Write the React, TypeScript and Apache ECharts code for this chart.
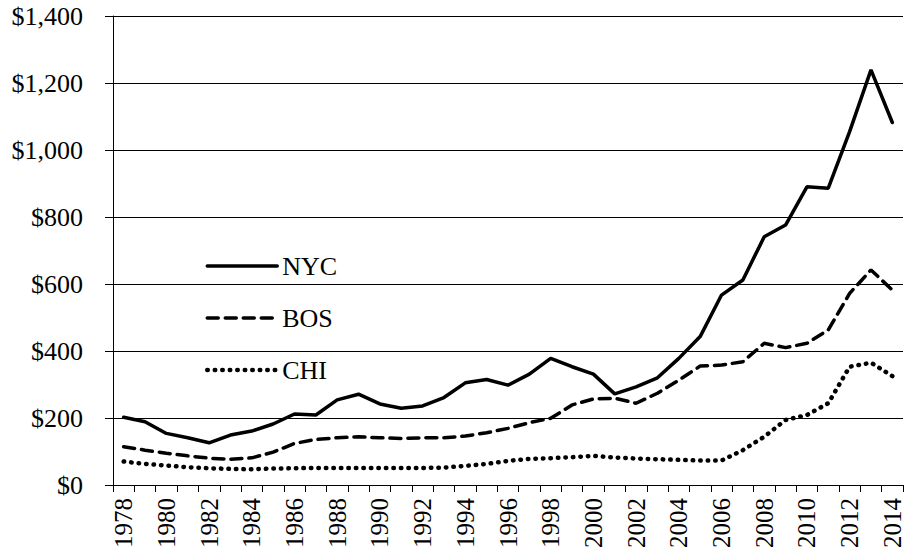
import React, { useEffect, useRef } from "react";
import * as echarts from "echarts";

const years: string[] = [];
for (let y = 1978; y <= 2014; y++) years.push(String(y));

const nyc = [202, 189, 154, 141, 126, 149, 161, 182, 212, 209, 254, 271, 242, 229, 236, 261, 305, 315,
  298, 331, 378, 353, 331, 272, 293, 320, 378, 443, 567, 612, 741, 776, 890, 886, 1055, 1239, 1082];
const bos = [114, 104, 95, 87, 80, 77, 81, 98, 124, 136, 141, 144, 141, 139, 141, 141, 146, 156,
  169, 186, 199, 239, 257, 259, 244, 274, 313, 355, 358, 368, 423, 410, 423, 463, 572, 642, 582];
const chi = [70, 63, 58, 53, 50, 48, 47, 49, 50, 51, 51, 51, 51, 51, 51, 52, 57, 63,
  72, 78, 80, 83, 87, 82, 79, 77, 75, 73, 73, 104, 144, 194, 209, 244, 353, 365, 325];

const FONT = "'Liberation Serif', 'Times New Roman', serif";

export default function App() {
  const ref = useRef<HTMLDivElement>(null);
  useEffect(() => {
    if (!ref.current) return;
    const chart = echarts.init(ref.current, null, { renderer: "svg" });
    const dashes: Record<string, any> = { NYC: "solid", BOS: [11, 7], CHI: [0.5, 7] };
    const widths: Record<string, number> = { NYC: 3.5, BOS: 3.5, CHI: 4.5 };
    const mk = (name: string, data: number[]) => ({
      name,
      type: "line",
      data,
      symbol: "none",
      smooth: false,
      lineStyle: { color: "#000", width: widths[name], type: dashes[name], cap: "round" },
      itemStyle: { color: "#000" },
    });
    chart.setOption({
      animation: false,
      backgroundColor: "#fff",
      grid: { left: 113, right: 4, top: 16, bottom: 75, containLabel: false },
      legend: {
        orient: "vertical",
        left: 205,
        top: 253,
        padding: 0,
        itemWidth: 70,
        itemHeight: 14,
        itemGap: 26,
        textStyle: { fontFamily: FONT, fontSize: 26, color: "#000" },
        itemStyle: { opacity: 0 },
        data: ["NYC", "BOS", "CHI"].map((n) => ({
          name: n,
          itemStyle: { opacity: 0 },
          lineStyle: { width: widths[n], type: dashes[n], cap: "round", color: "#000" },
        })),
      },
      xAxis: {
        type: "category",
        data: years,
        boundaryGap: true,
        axisLine: { lineStyle: { color: "#000", width: 1 } },
        axisTick: { show: true, interval: 0, length: 7, inside: false, lineStyle: { color: "#000" } },
        axisLabel: {
          interval: 1,
          rotate: 90,
          margin: 13,
          fontFamily: FONT,
          fontSize: 25,
          color: "#000",
        },
      },
      yAxis: {
        type: "value",
        min: 0,
        max: 1400,
        interval: 200,
        axisLine: { show: true, lineStyle: { color: "#000", width: 1 } },
        axisTick: { show: true, length: 8, lineStyle: { color: "#000" } },
        splitLine: { show: true, lineStyle: { color: "#000", width: 1 } },
        axisLabel: {
          margin: 30,
          fontFamily: FONT,
          fontSize: 26,
          color: "#000",
          formatter: (v: number) => "$" + v.toLocaleString("en-US"),
        },
      },
      series: [mk("NYC", nyc), mk("BOS", bos), mk("CHI", chi)],
    });
    return () => chart.dispose();
  }, []);
  return <div ref={ref} style={{ width: 907, height: 560, position: "absolute", left: 0, top: 0 }} />;
}
